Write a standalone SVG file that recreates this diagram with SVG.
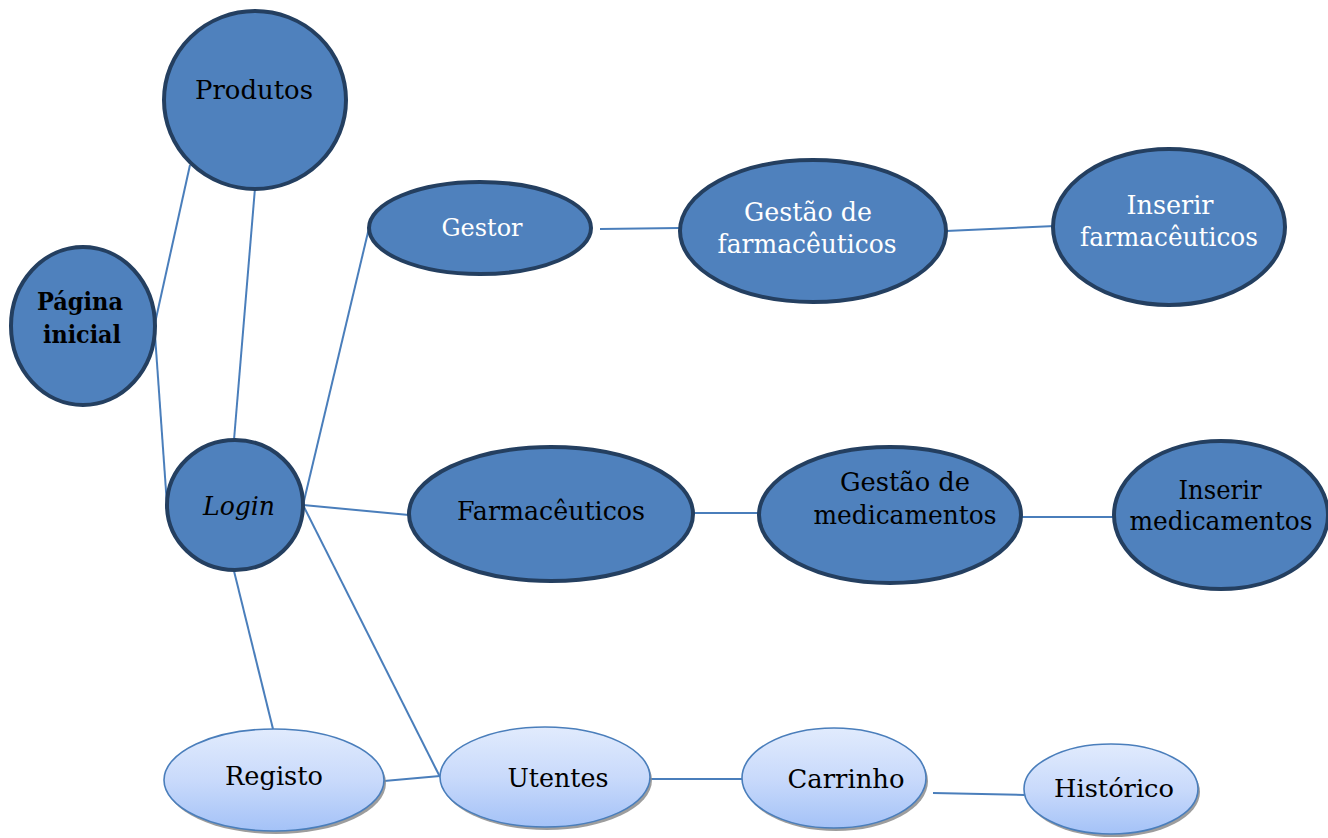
<svg xmlns="http://www.w3.org/2000/svg" width="1328" height="838" viewBox="0 0 1328 838">
  <style>
    .dark { fill: #4f81bd; stroke: #243f60; stroke-width: 4; }
    .light { fill: url(#lightFill); stroke: #4a7ebb; stroke-width: 1.6; }
    .shadow { fill: #8c8c8c; opacity: 0.85; }
    .w { fill: #ffffff; }
    .k { fill: #000000; }
    #connectors line { stroke: #4a7ebb; stroke-width: 2; }
  </style>
  <defs>
    <linearGradient id="lightFill" x1="0" y1="0" x2="0" y2="1">
      <stop offset="0" stop-color="#e1ebfd"/>
      <stop offset="0.5" stop-color="#c9dafb"/>
      <stop offset="1" stop-color="#a4c2f7"/>
    </linearGradient>
  </defs>
  <rect width="1328" height="838" fill="#ffffff"/>

  <g id="connectors">
    <line x1="155" y1="323" x2="190" y2="165"/>
    <line x1="155" y1="335" x2="167" y2="505"/>
    <line x1="255" y1="188" x2="234" y2="440"/>
    <line x1="303" y1="505" x2="369" y2="228"/>
    <line x1="303" y1="505" x2="409" y2="515"/>
    <line x1="303" y1="505" x2="440" y2="777"/>
    <line x1="234" y1="571" x2="273" y2="729"/>
    <line x1="384" y1="781" x2="440" y2="776"/>
    <line x1="600" y1="229" x2="680" y2="228"/>
    <line x1="946" y1="231" x2="1055" y2="226"/>
    <line x1="693" y1="513" x2="759" y2="513"/>
    <line x1="1021" y1="517" x2="1114" y2="517"/>
    <line x1="647" y1="779" x2="742" y2="779"/>
    <line x1="933" y1="793" x2="1024" y2="795"/>
  </g>

  <g font-family="'DejaVu Serif', serif" font-size="26" text-anchor="middle" lengthAdjust="spacingAndGlyphs">
  <g id="produtos">
    <ellipse class="dark" cx="255" cy="100" rx="91" ry="89"/>
    <text class="k" x="254" y="99" textLength="118" lengthAdjust="spacingAndGlyphs">Produtos</text>
  </g>

  <g id="pagina-inicial">
    <ellipse class="dark" cx="83" cy="326" rx="72" ry="79"/>
    <text class="k" x="80" y="310" font-weight="bold" font-size="24" textLength="86" lengthAdjust="spacingAndGlyphs">Página</text>
    <text class="k" x="82" y="343" font-weight="bold" font-size="24" textLength="78" lengthAdjust="spacingAndGlyphs">inicial</text>
  </g>

  <g id="login">
    <ellipse class="dark" cx="235" cy="505" rx="68" ry="65"/>
    <text class="k" x="239" y="515" font-style="italic" textLength="72" lengthAdjust="spacingAndGlyphs">Login</text>
  </g>

  <g id="gestor">
    <ellipse class="dark" cx="480" cy="228" rx="111" ry="46"/>
    <text class="w" x="482" y="236" font-size="24" textLength="81" lengthAdjust="spacingAndGlyphs">Gestor</text>
  </g>

  <g id="gestao-farmaceuticos">
    <ellipse class="dark" cx="813" cy="231" rx="133" ry="71"/>
    <text class="w" x="808" y="221" textLength="128" lengthAdjust="spacingAndGlyphs">Gestão de</text>
    <text class="w" x="807" y="253" textLength="179" lengthAdjust="spacingAndGlyphs">farmacêuticos</text>
  </g>

  <g id="inserir-farmaceuticos">
    <ellipse class="dark" cx="1169" cy="227" rx="116" ry="78"/>
    <text class="w" x="1170" y="214" textLength="87" lengthAdjust="spacingAndGlyphs">Inserir</text>
    <text class="w" x="1169" y="246" textLength="178" lengthAdjust="spacingAndGlyphs">farmacêuticos</text>
  </g>

  <g id="farmaceuticos">
    <ellipse class="dark" cx="551" cy="514" rx="142" ry="67"/>
    <text class="k" x="551" y="520" textLength="188" lengthAdjust="spacingAndGlyphs">Farmacêuticos</text>
  </g>

  <g id="gestao-medicamentos">
    <ellipse class="dark" cx="890" cy="515" rx="131" ry="68"/>
    <text class="k" x="905" y="491" textLength="130" lengthAdjust="spacingAndGlyphs">Gestão de</text>
    <text class="k" x="905" y="524" textLength="183" lengthAdjust="spacingAndGlyphs">medicamentos</text>
  </g>

  <g id="inserir-medicamentos">
    <ellipse class="dark" cx="1221" cy="515" rx="107" ry="74"/>
    <text class="k" x="1220" y="499" textLength="83" lengthAdjust="spacingAndGlyphs">Inserir</text>
    <text class="k" x="1221" y="530" textLength="183" lengthAdjust="spacingAndGlyphs">medicamentos</text>
  </g>

  <g id="registo">
    <ellipse class="shadow" cx="276" cy="783" rx="110" ry="51"/>
    <ellipse class="light" cx="274" cy="780" rx="110" ry="51"/>
    <text class="k" x="274" y="785" textLength="98" lengthAdjust="spacingAndGlyphs">Registo</text>
  </g>

  <g id="utentes">
    <ellipse class="shadow" cx="547" cy="780" rx="105" ry="50"/>
    <ellipse class="light" cx="545" cy="777" rx="105" ry="50"/>
    <text class="k" x="558" y="787" textLength="101" lengthAdjust="spacingAndGlyphs">Utentes</text>
  </g>

  <g id="carrinho">
    <ellipse class="shadow" cx="836" cy="781" rx="92" ry="50"/>
    <ellipse class="light" cx="834" cy="778" rx="92" ry="50"/>
    <text class="k" x="846" y="788" textLength="117" lengthAdjust="spacingAndGlyphs">Carrinho</text>
  </g>

  <g id="historico">
    <ellipse class="shadow" cx="1113" cy="792" rx="87" ry="45"/>
    <ellipse class="light" cx="1111" cy="789" rx="87" ry="45"/>
    <text class="k" x="1114" y="797" font-size="25" textLength="120" lengthAdjust="spacingAndGlyphs">Histórico</text>
  </g>
  </g>
</svg>
